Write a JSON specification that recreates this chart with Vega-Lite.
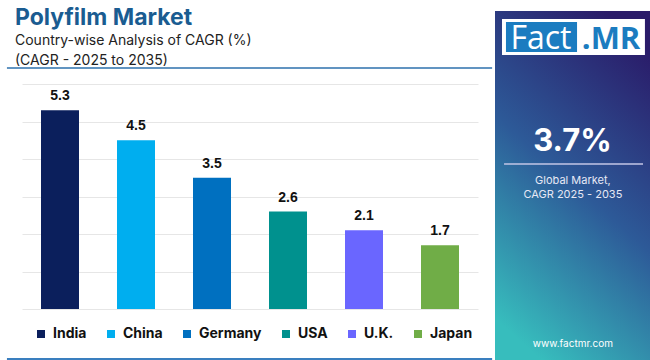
{
  "$schema": "https://vega.github.io/schema/vega-lite/v6.json",
  "background": "white",
  "padding": {"left": 5, "top": 7, "right": 0, "bottom": 0},
  "spacing": 1,
  "config": {"view": {"stroke": null}, "font": "Inter"},
  "hconcat": [
    {
      "width": 456,
      "height": 298,
      "title": {
        "text": "Polyfilm Market",
        "subtitle": ["Country-wise Analysis of CAGR (%)", "(CAGR - 2025 to 2035)"],
        "anchor": "start",
        "frame": "group",
        "dx": -7,
        "font": "Inter",
        "fontSize": 23,
        "fontWeight": 700,
        "color": "#1a5c91",
        "subtitleFont": "Inter",
        "subtitleFontSize": 14,
        "subtitleColor": "#222222",
        "subtitleLineHeight": 20,
        "subtitlePadding": 4,
        "offset": -57
      },
      "data": {
        "values": [
          {"country": "India", "cagr": 5.3},
          {"country": "China", "cagr": 4.5},
          {"country": "Germany", "cagr": 3.5},
          {"country": "USA", "cagr": 2.6},
          {"country": "U.K.", "cagr": 2.1},
          {"country": "Japan", "cagr": 1.7}
        ]
      },
      "layer": [
        {
          "encoding": {
            "x": {
              "field": "country",
              "type": "nominal",
              "sort": null,
              "scale": {"paddingInner": 0.5, "paddingOuter": 0.25},
              "axis": null
            },
            "y": {
              "field": "cagr",
              "type": "quantitative",
              "scale": {"domain": [0, 7.9467], "nice": false},
              "axis": {
                "values": [0, 1, 2, 3, 4, 5, 6],
                "labels": false,
                "ticks": false,
                "domain": false,
                "title": null,
                "grid": true,
                "gridColor": "#e6e6e6",
                "gridWidth": 1
              }
            }
          },
          "layer": [
            {
              "mark": {"type": "bar"},
              "encoding": {
                "color": {
                  "field": "country",
                  "type": "nominal",
                  "sort": null,
                  "scale": {
                    "domain": ["India", "China", "Germany", "USA", "U.K.", "Japan"],
                    "range": ["#0b1f5c", "#00aeef", "#0070c0", "#00918e", "#6a66ff", "#70ad47"]
                  },
                  "legend": {
                    "orient": "none",
                    "legendX": 12,
                    "legendY": 316,
                    "direction": "horizontal",
                    "title": null,
                    "symbolType": "square",
                    "symbolSize": 64,
                    "symbolStrokeWidth": 0,
                    "labelFont": "Inter",
                    "labelFontSize": 14,
                    "labelFontWeight": 700,
                    "labelColor": "#111111",
                    "columnPadding": 17,
                    "labelOffset": 5,
                    "padding": 0
                  }
                }
              }
            },
            {
              "mark": {
                "type": "text",
                "baseline": "alphabetic",
                "dy": -10,
                "font": "Liberation Sans",
                "fontSize": 14,
                "fontWeight": "bold",
                "color": "#111111"
              },
              "encoding": {"text": {"field": "cagr", "type": "quantitative", "format": ".1f"}}
            }
          ]
        },
        {
          "data": {"values": [{}]},
          "mark": {"type": "rule", "color": "#2c70ad", "strokeWidth": 1.5},
          "encoding": {
            "x": {"datum": -0.033, "type": "quantitative", "scale": {"domain": [0, 1], "nice": false, "zero": false}, "axis": null},
            "x2": {"datum": 1.031},
            "y": {"datum": 6.427, "type": "quantitative"}
          }
        },
        {
          "data": {"values": [{}]},
          "mark": {"type": "rule", "color": "#3a7fbf", "strokeWidth": 2},
          "encoding": {
            "x": {"datum": -0.033, "type": "quantitative", "scale": {"domain": [0, 1], "nice": false, "zero": false}, "axis": null},
            "x2": {"datum": 1.031},
            "y": {"datum": -1.333, "type": "quantitative"}
          }
        }
      ],
      "resolve": {"scale": {"x": "independent"}}
    },
    {
      "width": 159,
      "height": 350,
      "data": {"values": [{"cagr": "3.7%", "site": "www.factmr.com"}]},
      "layer": [
        {
          "mark": {
            "type": "rect",
            "color": {
              "gradient": "linear",
              "x1": 0.7, "y1": 0, "x2": 0.3, "y2": 1,
              "stops": [
                {"offset": 0, "color": "#2a1b69"},
                {"offset": 0.5, "color": "#2d5a98"},
                {"offset": 1, "color": "#37bdbd"}
              ]
            }
          },
          "encoding": {
            "x": {"datum": 0, "type": "quantitative", "scale": {"domain": [0, 1], "nice": false, "zero": false}, "axis": null},
            "x2": {"datum": 1},
            "y": {"datum": 0, "type": "quantitative", "scale": {"domain": [0, 1], "nice": false, "zero": false}, "axis": null},
            "y2": {"datum": 1}
          }
        },
        {
          "mark": {"type": "rect", "color": "white"},
          "encoding": {
            "x": {"datum": 0.044, "type": "quantitative"},
            "x2": {"datum": 0.943},
            "y": {"datum": 0.8743, "type": "quantitative"},
            "y2": {"datum": 0.9771}
          }
        },
        {
          "mark": {"type": "rect", "color": "#1b7cc0"},
          "encoding": {
            "x": {"datum": 0.069, "type": "quantitative"},
            "x2": {"datum": 0.516},
            "y": {"datum": 0.8829, "type": "quantitative"},
            "y2": {"datum": 0.9686}
          }
        },
        {
          "mark": {"type": "text", "text": "Fact", "font": "Open Sans", "fontSize": 32, "color": "white", "baseline": "alphabetic", "align": "center"},
          "encoding": {
            "x": {"datum": 0.289, "type": "quantitative"},
            "y": {"datum": 0.8914, "type": "quantitative"}
          }
        },
        {
          "mark": {"type": "text", "text": ".MR", "font": "Open Sans", "fontSize": 31, "fontWeight": 700, "color": "#1b7cc0", "baseline": "alphabetic", "align": "center"},
          "encoding": {
            "x": {"datum": 0.73, "type": "quantitative"},
            "y": {"datum": 0.8914, "type": "quantitative"}
          }
        },
        {
          "mark": {"type": "text", "font": "Inter", "fontSize": 31, "fontWeight": 700, "color": "white", "baseline": "alphabetic", "align": "center"},
          "encoding": {
            "text": {"field": "cagr"},
            "x": {"datum": 0.487, "type": "quantitative"},
            "y": {"datum": 0.6, "type": "quantitative"}
          }
        },
        {
          "mark": {"type": "rule", "color": "#c3c6e6", "strokeWidth": 1.5},
          "encoding": {
            "x": {"datum": 0.057, "type": "quantitative"},
            "x2": {"datum": 0.931},
            "y": {"datum": 0.5629, "type": "quantitative"}
          }
        },
        {
          "mark": {"type": "text", "text": "Global Market,", "font": "Inter", "fontSize": 11, "color": "#e6e8f5", "baseline": "middle", "align": "center"},
          "encoding": {
            "x": {"datum": 0.49, "type": "quantitative"},
            "y": {"datum": 0.5143, "type": "quantitative"}
          }
        },
        {
          "mark": {"type": "text", "text": "CAGR 2025 - 2035", "font": "Inter", "fontSize": 11, "color": "#e6e8f5", "baseline": "middle", "align": "center"},
          "encoding": {
            "x": {"datum": 0.49, "type": "quantitative"},
            "y": {"datum": 0.4757, "type": "quantitative"}
          }
        },
        {
          "mark": {"type": "text", "font": "Inter", "fontSize": 10, "color": "white", "baseline": "middle", "align": "center"},
          "encoding": {
            "text": {"field": "site"},
            "x": {"datum": 0.49, "type": "quantitative"},
            "y": {"datum": 0.0486, "type": "quantitative"}
          }
        }
      ]
    }
  ]
}
